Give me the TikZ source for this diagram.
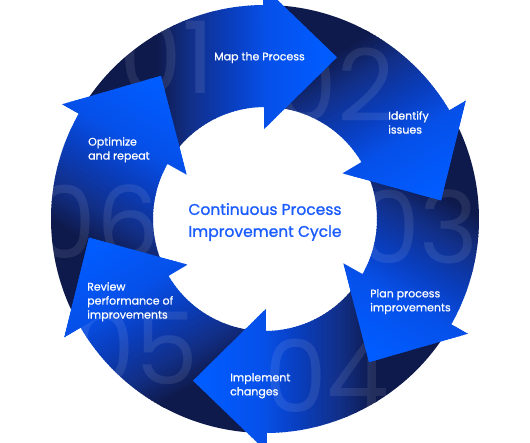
\documentclass[tikz,border=0pt]{standalone}
\usepackage{fontspec}
\setmainfont{Poppins}
\newfontfamily\lblfont{Poppins}[FakeBold=0.8]
\newfontfamily\ttlfont{Poppins}[FakeBold=1.2]
\definecolor{cA}{HTML}{0E1A4C}
\definecolor{cB}{HTML}{12308A}
\definecolor{cC}{HTML}{0A3CB8}
\definecolor{cD}{HTML}{0650EA}
\definecolor{cE}{HTML}{005CFF}
\definecolor{titleblue}{HTML}{1A5CFF}
\tikzset{
  numstyle/.style={text=white, text opacity=0.09, inner sep=0, font=\fontsize{100}{100}\selectfont},
  labelstyle/.style={text=white, inner sep=0, anchor=north west, align=left, font=\lblfont\fontsize{11}{14}\selectfont},
  titlestyle/.style={text=titleblue, inner sep=0, align=center, font=\ttlfont\fontsize{15.5}{22}\selectfont}
}
\def\bodypath{([shift={(150:214)}]265,223) arc[start angle=150, end angle=89.5, radius=214] -- ([shift={(89.5:112)}]265,223) arc[start angle=89.5, end angle=150, radius=112] -- cycle}
\def\headpath{([shift={(90.5:233)}]265,223) -- ([shift={(66:177)}]265,223) -- ([shift={(90.5:90)}]265,223) -- cycle}
\def\setband#1{%
 \ifnum#1<-110 \colorlet{bandc}{cA}\else
 \ifnum#1<-75 \pgfmathtruncatemacro\p{(#1+110)/35*100}\colorlet{bandc}{cB!\p!cA}\else
 \ifnum#1<-40 \pgfmathtruncatemacro\p{(#1+75)/35*100}\colorlet{bandc}{cC!\p!cB}\else
 \ifnum#1<0 \pgfmathtruncatemacro\p{(#1+40)/40*100}\colorlet{bandc}{cD!\p!cC}\else
 \ifnum#1<60 \pgfmathtruncatemacro\p{#1/60*100}\colorlet{bandc}{cE!\p!cD}\else
 \colorlet{bandc}{cE}\fi\fi\fi\fi\fi}
% #1 = rotation angle of the arrow
\def\bands#1{%
  \fill[cA, rotate around={#1:(265,223)}] (5,-40) rectangle (155,490);
  \foreach \t in {-113,-110,...,76} {
    \setband{\t}
    \fill[bandc, rotate around={#1:(265,223)}] (265+\t,-40) rectangle (269+\t,490);
  }
  \fill[cE, rotate around={#1:(265,223)}] (344,-40) rectangle (560,490);
}
\begin{document}
\begin{tikzpicture}[x=1pt,y=1pt]
\useasboundingbox (0,0) rectangle (530,442);
\clip (0,0) rectangle (530,442);
\coordinate (C) at (265,223);
% bodies
\foreach \k in {0,...,5} {
  \begin{scope}
    \clip[rotate around={-60*\k:(265,223)}] \bodypath;
    \bands{-60*\k}
  \end{scope}
}
% big numbers
\foreach \n/\x/\y in {01/167/385, 02/335/357, 03/418/215, 04/327/66, 05/135/94, 06/97/220} {
  \node[numstyle] (num\n) at (\x,\y) {\n};
}
% heads
\foreach \k in {0,...,5} {
  \begin{scope}
    \clip[rotate around={-60*\k:(265,223)}] \headpath;
    \bands{-60*\k}
  \end{scope}
}
% labels
\node[labelstyle] (map) at (214,390) {Map the Process};
\node[labelstyle] (identify) at (388,331) {Identify\\issues};
\node[labelstyle] (plan) at (370,153) {Plan process\\improvements};
\node[labelstyle] (implement) at (230,69) {Implement\\changes};
\node[labelstyle] (review) at (87,160) {Review\\performance of\\improvements};
\node[labelstyle] (optimize) at (88,305) {Optimize\\and repeat};
\node[titlestyle] (title) at (265,220) {Continuous Process\\Improvement Cycle};
\end{tikzpicture}
\end{document}
